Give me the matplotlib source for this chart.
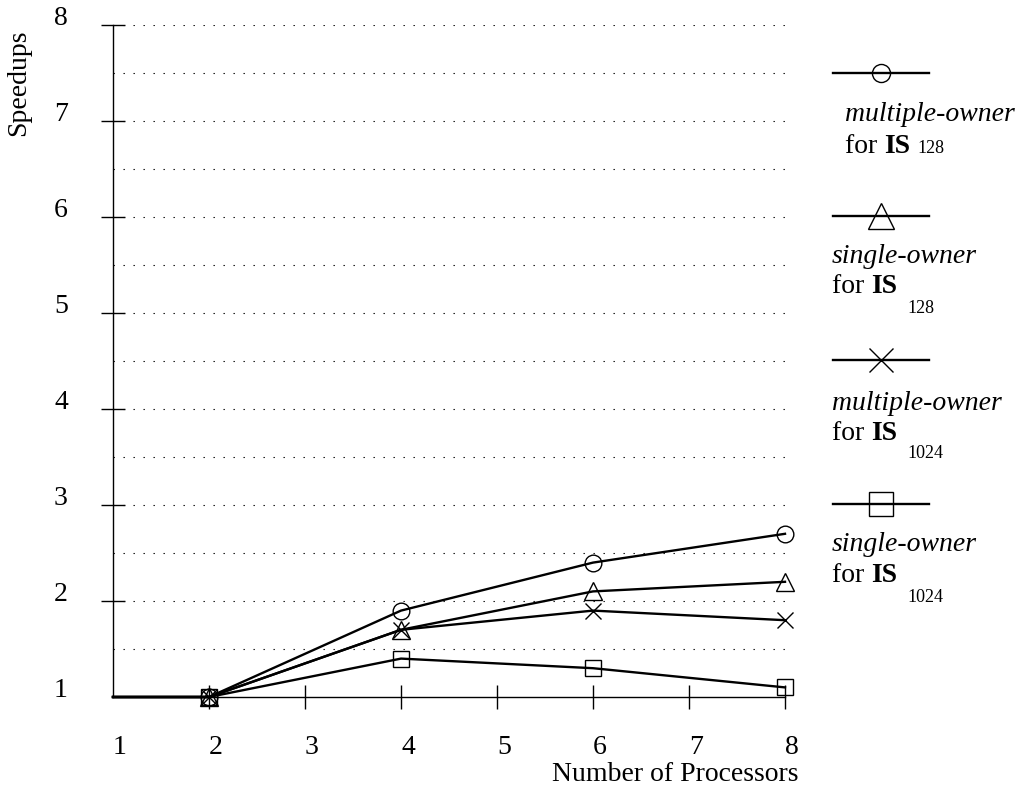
import matplotlib
matplotlib.use('Agg')
import matplotlib.pyplot as plt
from matplotlib.lines import Line2D

plt.rcParams['font.family'] = ['Liberation Serif', 'DejaVu Serif']
plt.rcParams['font.size'] = 20

# %% Data
procs = [1, 2, 4, 6, 8]
multi_128 = [1, 1, 1.9, 2.4, 2.7]
single_128 = [1, 1, 1.7, 2.1, 2.2]
multi_1024 = [1, 1, 1.7, 1.9, 1.8]
single_1024 = [1, 1, 1.4, 1.3, 1.1]

owners = ['multiple-owner', 'single-owner', 'multiple-owner', 'single-owner']
sizes = ['128', '128', '1024', '1024']
xticks = [1, 2, 3, 4, 5, 6, 7, 8]
yticks = [1, 2, 3, 4, 5, 6, 7, 8]
grid_levels = [1.5, 2, 2.5, 3, 3.5, 4, 4.5, 5, 5.5, 6, 6.5, 7, 7.5, 8]

series = [multi_128, single_128, multi_1024, single_1024]
markers = ['o', '^', 'x', 's']
msizes = [12, 13, 11.5, 11.5]
leg_msizes = [13, 19, 17, 17]

W, H = 1024, 798


def fx(x):
    return x / W


def fy(y):
    return 1 - y / H


# %% Plot
fig = plt.figure(figsize=(W / 100, H / 100), dpi=100)
ax = fig.add_axes([fx(113), fy(697), (785 - 113) / W, (697 - 25) / H])

ax.hlines(grid_levels, 1, 8, colors='black', linestyles=(0, (1.2, 7.8)), linewidth=0.8)

for vals, m, ms in zip(series, markers, msizes):
    ax.plot(procs, vals, color='black', lw=1.7, marker=m, ms=ms, mfc='none',
            mec='black', mew=1, markevery=[1, 2, 3, 4], clip_on=False, zorder=3)

ax.set_xlim(1, 8)
ax.set_ylim(1, 8)
for s in ['top', 'right']:
    ax.spines[s].set_visible(False)
for s in ['left', 'bottom']:
    ax.spines[s].set_linewidth(1)

ax.set_xticks(xticks)
ax.set_yticks(yticks)
ax.tick_params(axis='both', direction='inout', length=17, width=1)
ax.tick_params(axis='x', pad=19)
ax.tick_params(axis='y', pad=24)
ax.xaxis.get_major_ticks()[0].tick1line.set_visible(False)
ax.yaxis.get_major_ticks()[0].tick1line.set_visible(False)
for t in ax.yaxis.get_major_ticks():
    t.label1.set_verticalalignment('baseline')
for t in ax.xaxis.get_major_ticks():
    t.label1.set_horizontalalignment('left')

fig.text(fx(19), fy(83), 'Speedups', rotation=90, ha='center', va='center')
fig.text(fx(798), fy(781), 'Number of Processors', ha='right', va='baseline')

# %% Legend drawn by hand on the right
# (line y, text x, italic baseline, "for IS" baseline, sub x, sub baseline)
leg_layout = [
    (73, 845, 121, 153, 917, 153),
    (216, 832, 263, 293, 907, 313),
    (360, 832, 410, 440, 907, 458),
    (504, 832, 551, 582, 907, 602),
]
for (ly, tx, b1, b2, sx, sb), m, ms, own, sz in zip(leg_layout, markers, leg_msizes, owners, sizes):
    fig.add_artist(Line2D([fx(833), fx(881), fx(929)], [fy(ly)] * 3, transform=fig.transFigure,
                          color='black', lw=1.7, marker=m, ms=ms, mfc='none', mec='black',
                          mew=1, markevery=[1]))
    fig.text(fx(tx), fy(b1), own, style='italic', ha='left', va='baseline')
    fig.text(fx(tx), fy(b2), 'for ', ha='left', va='baseline')
    fig.text(fx(tx + 39), fy(b2), 'IS', fontweight='bold', ha='left', va='baseline')
    fig.text(fx(sx), fy(sb), sz, fontsize=13, ha='left', va='baseline')

fig.savefig('out.png', dpi=100)
